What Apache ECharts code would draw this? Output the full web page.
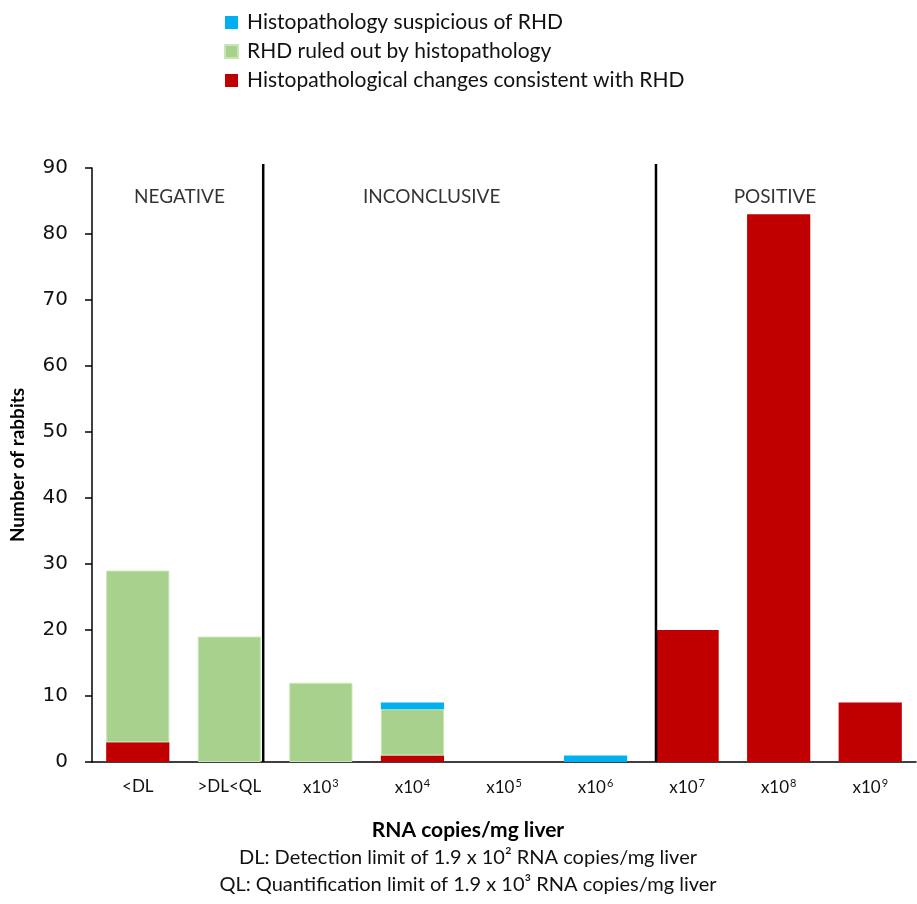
<!DOCTYPE html>
<html>
<head>
<meta charset="utf-8">
<script src="https://cdn.jsdelivr.net/npm/echarts@6/dist/echarts.min.js"></script>
<style>
  html, body { margin: 0; padding: 0; background: #fff; }
  #main { width: 917px; height: 904px; }
</style>
</head>
<body>
<div id="main"></div>
<script>
  // categories on the x axis
  let categories = ['<DL', '>DL<QL', 'x10³', 'x10⁴', 'x10⁵', 'x10⁶', 'x10⁷', 'x10⁸', 'x10⁹'];
  // stacked counts, bottom to top
  let consistent = [3, 0, 0, 1, 0, 0, 20, 83, 9];
  let ruledOut = [26, 19, 12, 7, 0, 0, 0, 0, 0];
  let suspicious = [0, 0, 0, 1, 0, 1, 0, 0, 0];
  let yTicks = [0, 90, 10];

  // group dividers and group names (x in category units, 0 = left edge)
  let dividerX = [1.87, 6.16];
  let groupNames = ['NEGATIVE', 'INCONCLUSIVE', 'POSITIVE'];
  let groupX = [0.955, 3.71, 7.46];
  let groupY = 85.6;

  let font = 'Lato, "Open Sans", sans-serif';
  let sups = { '³': '3', '⁴': '4', '⁵': '5', '⁶': '6', '⁷': '7', '⁸': '8', '⁹': '9' };

  // zero segments are not drawn
  function noZero(arr) {
    return arr.map(function (v) { return v === 0 ? null : v; });
  }

  var myChart = echarts.init(document.getElementById('main'));

  let dividerSeries = dividerX.map(function (x) {
    return {
      type: 'line',
      xAxisIndex: 1,
      data: [[x, 0], [x, 90.6]],
      symbol: 'none',
      clip: false,
      silent: true,
      lineStyle: { color: '#000', width: 2.5 },
      z: 5
    };
  });

  myChart.setOption({
    animation: false,
    legend: {
      orient: 'vertical',
      left: 219,
      top: 7,
      itemWidth: 13,
      itemHeight: 13,
      itemGap: 8,
      icon: 'rect',
      data: ['Histopathology suspicious of RHD', 'RHD ruled out by histopathology', 'Histopathological changes consistent with RHD'],
      textStyle: { fontFamily: font, fontSize: 21, color: '#111', lineHeight: 20, padding: [0, 0, 0, 4] }
    },
    grid: { left: 87, right: 1, top: 168, bottom: 142 },
    xAxis: [
      {
        type: 'category',
        data: categories,
        axisLine: { lineStyle: { color: '#000', width: 1.5 } },
        axisTick: { show: false },
        axisLabel: {
          margin: 16,
          formatter: function (v) {
            let last = v.charAt(v.length - 1);
            if (sups[last]) return '{b|' + v.slice(0, -1) + '}{s|' + sups[last] + '}';
            return '{b|' + v + '}';
          },
          rich: {
            b: { fontFamily: font, fontSize: 17, color: '#111' },
            s: { fontFamily: font, fontSize: 11, color: '#111', verticalAlign: 'top', padding: [0, 0, 8, 1] }
          }
        }
      },
      { type: 'value', min: 0, max: 9, show: false }
    ],
    yAxis: {
      type: 'value',
      min: yTicks[0],
      max: yTicks[1],
      interval: yTicks[2],
      name: 'Number of rabbits',
      nameLocation: 'middle',
      nameGap: 65,
      nameTextStyle: { fontFamily: font, fontSize: 19, fontWeight: 'bold', color: '#000' },
      splitLine: { show: false },
      axisLine: { show: true, lineStyle: { color: '#000', width: 1.5 } },
      axisTick: { show: true, length: 7, lineStyle: { color: '#000', width: 1.5 } },
      axisLabel: { fontFamily: '"DejaVu Sans", sans-serif', fontSize: 20, color: '#111', margin: 24 }
    },
    series: [
      {
        name: 'Histopathological changes consistent with RHD',
        type: 'bar',
        stack: 'all',
        barCategoryGap: '31%',
        data: noZero(consistent),
        itemStyle: { color: '#C00000' }
      },
      {
        name: 'RHD ruled out by histopathology',
        type: 'bar',
        stack: 'all',
        data: noZero(ruledOut),
        itemStyle: { color: '#A9D18E', borderColor: '#C8E6B4', borderWidth: 1 }
      },
      {
        name: 'Histopathology suspicious of RHD',
        type: 'bar',
        stack: 'all',
        data: noZero(suspicious),
        itemStyle: { color: '#00B0F0' }
      },
      {
        type: 'scatter',
        xAxisIndex: 1,
        symbolSize: 0,
        silent: true,
        data: groupNames.map(function (n, i) { return { value: [groupX[i], groupY], name: n }; }),
        label: {
          show: true,
          position: 'inside',
          formatter: '{b}',
          fontFamily: font,
          fontSize: 19,
          color: '#000'
        }
      }
    ].concat(dividerSeries),
    graphic: [
      { type: 'text', x: 468, y: 830, style: { text: 'RNA copies/mg liver', font: 'bold 21px ' + font, fill: '#000', textAlign: 'center', textVerticalAlign: 'middle' } },
      { type: 'text', x: 468, y: 858, style: { text: 'DL: Detection limit of 1.9 x 10² RNA copies/mg liver', font: '20px ' + font, fill: '#111', textAlign: 'center', textVerticalAlign: 'middle' } },
      { type: 'text', x: 468, y: 885, style: { text: 'QL: Quantification limit of 1.9 x 10³ RNA copies/mg liver', font: '20px ' + font, fill: '#111', textAlign: 'center', textVerticalAlign: 'middle' } }
    ]
  });
</script>
</body>
</html>
